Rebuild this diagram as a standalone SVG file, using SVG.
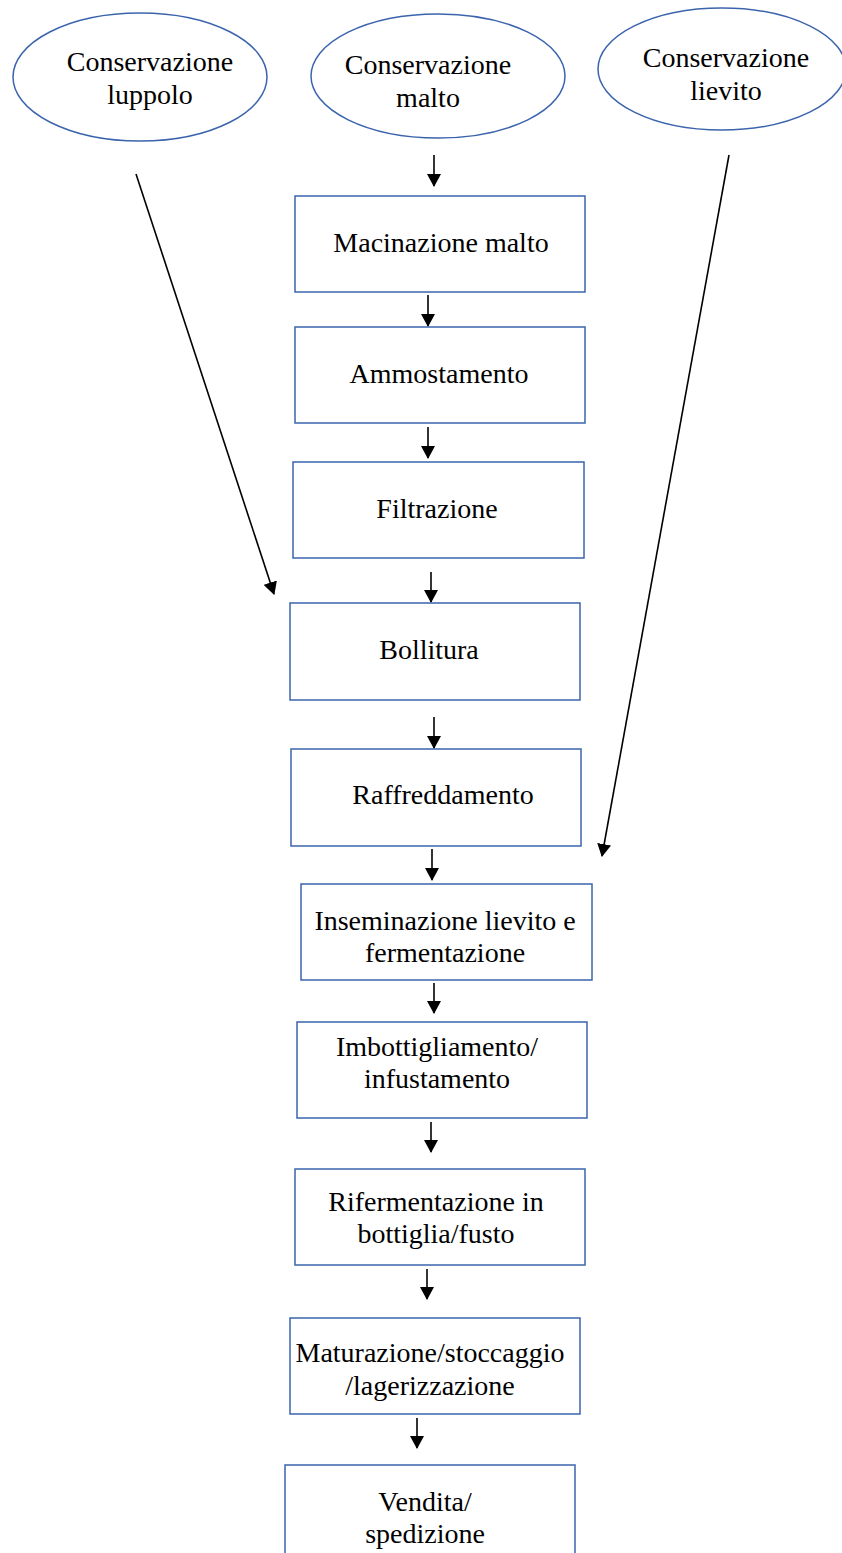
<svg xmlns="http://www.w3.org/2000/svg" width="842" height="1553" viewBox="0 0 842 1553">
<style>
.n{fill:#fff;stroke:#3B64AD;stroke-width:1.5}
.t{font-family:"Liberation Serif","Times New Roman",serif;font-size:28px;fill:#000;text-anchor:middle}
.c{stroke:#000;stroke-width:1.6;fill:none;marker-end:url(#ah)}
</style>
<defs>
<marker id="ah" markerWidth="13" markerHeight="14" refX="12" refY="7" orient="auto" markerUnits="userSpaceOnUse" viewBox="0 0 13 14">
<path d="M0,0 L13,7 L0,14 z" fill="#000"/>
</marker>
</defs>
<rect width="842" height="1553" fill="#fff"/>
<g id="conn">
<line class="c" x1="434" y1="155" x2="434" y2="186"/>
<line class="c" x1="428" y1="295" x2="428" y2="326"/>
<line class="c" x1="428" y1="427" x2="428" y2="458"/>
<line class="c" x1="431" y1="572" x2="431" y2="602"/>
<line class="c" x1="434" y1="717" x2="434" y2="748"/>
<line class="c" x1="432" y1="849" x2="432" y2="880"/>
<line class="c" x1="434" y1="983" x2="434" y2="1013"/>
<line class="c" x1="431" y1="1122" x2="431" y2="1152"/>
<line class="c" x1="427" y1="1269" x2="427" y2="1299"/>
<line class="c" x1="417" y1="1418" x2="417" y2="1448"/>
<line class="c" x1="136" y1="174" x2="274" y2="594"/>
<line class="c" x1="729" y1="155" x2="602" y2="856"/>
</g>
<g id="e_luppolo">
<ellipse class="n" cx="140" cy="77" rx="127" ry="64"/>
<text class="t" x="150" y="71">Conservazione</text>
<text class="t" x="150" y="104">luppolo</text>
</g>
<g id="e_malto">
<ellipse class="n" cx="438" cy="76" rx="127" ry="62"/>
<text class="t" x="428" y="74">Conservazione</text>
<text class="t" x="428" y="107">malto</text>
</g>
<g id="e_lievito">
<ellipse class="n" cx="722" cy="69" rx="124" ry="61"/>
<text class="t" x="726" y="67">Conservazione</text>
<text class="t" x="726" y="100">lievito</text>
</g>
<g id="n1">
<rect class="n" x="295" y="196" width="290" height="96"/>
<text class="t" x="441" y="252">Macinazione malto</text>
</g>
<g id="n2">
<rect class="n" x="295" y="327" width="290" height="96"/>
<text class="t" x="439" y="383">Ammostamento</text>
</g>
<g id="n3">
<rect class="n" x="293" y="462" width="291" height="96"/>
<text class="t" x="437" y="518">Filtrazione</text>
</g>
<g id="n4">
<rect class="n" x="290" y="603" width="290" height="97"/>
<text class="t" x="429" y="659">Bollitura</text>
</g>
<g id="n5">
<rect class="n" x="291" y="749" width="290" height="97"/>
<text class="t" x="443" y="804">Raffreddamento</text>
</g>
<g id="n6">
<rect class="n" x="301" y="884" width="291" height="96"/>
<text class="t" x="445" y="930">Inseminazione lievito e</text>
<text class="t" x="445" y="962">fermentazione</text>
</g>
<g id="n7">
<rect class="n" x="297" y="1022" width="290" height="96"/>
<text class="t" x="437" y="1056">Imbottigliamento/</text>
<text class="t" x="437" y="1088">infustamento</text>
</g>
<g id="n8">
<rect class="n" x="295" y="1169" width="290" height="96"/>
<text class="t" x="436" y="1211">Rifermentazione in</text>
<text class="t" x="436" y="1243">bottiglia/fusto</text>
</g>
<g id="n9">
<rect class="n" x="290" y="1318" width="290" height="96"/>
<text class="t" x="430" y="1362">Maturazione/stoccaggio</text>
<text class="t" x="430" y="1395">/lagerizzazione</text>
</g>
<g id="n10">
<rect class="n" x="285" y="1465" width="290" height="110"/>
<text class="t" x="425" y="1511">Vendita/</text>
<text class="t" x="425" y="1543">spedizione</text>
</g>
</svg>
